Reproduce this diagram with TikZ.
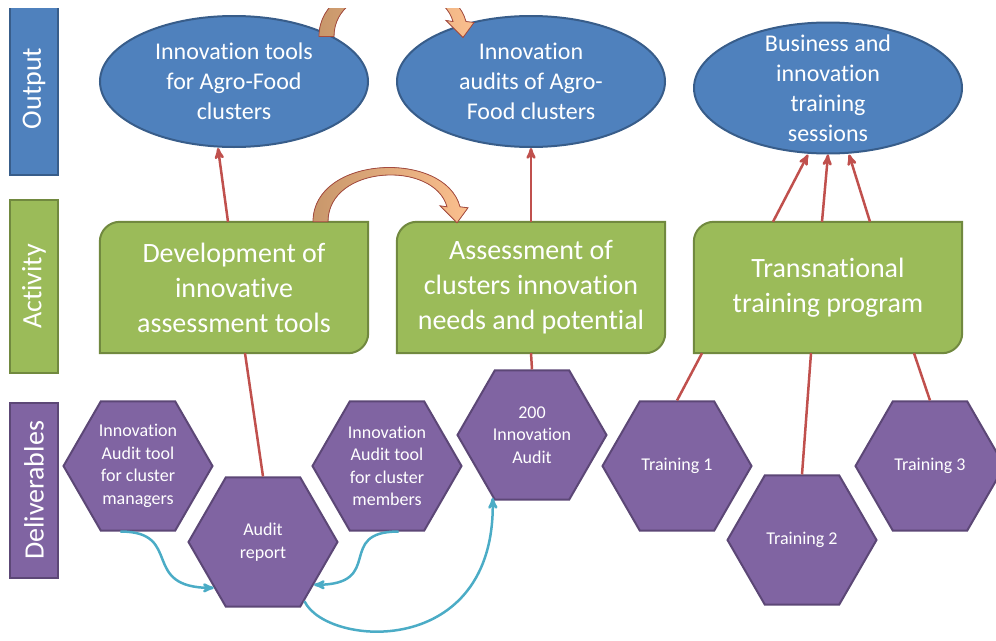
\documentclass[tikz,border=0pt]{standalone}
\usepackage{fontspec}
\setmainfont{Carlito}[Ligatures=NoCommon]
\usetikzlibrary{arrows, shapes.geometric, backgrounds}

\definecolor{outblue}{HTML}{4F81BD}
\definecolor{blueedge}{HTML}{385D8A}
\definecolor{actgreen}{HTML}{9BBB59}
\definecolor{greenedge}{HTML}{71893F}
\definecolor{delpurple}{HTML}{8064A2}
\definecolor{purpleedge}{HTML}{5C4776}
\definecolor{linkred}{HTML}{C0504D}
\definecolor{flowcyan}{HTML}{4BACC6}
\definecolor{bendleft}{HTML}{C8976B}
\definecolor{bendright}{HTML}{FBBF8E}
\definecolor{bendedge}{HTML}{A54B3F}

\tikzset{
  rowbar/.style={rotate=90, minimum height=48pt, line width=2pt, text=white,
    font=\fontsize{28}{34}\selectfont},
  outcome/.style={ellipse, draw=blueedge, fill=outblue, line width=2pt, text=white,
    minimum width=268pt, minimum height=131pt, inner sep=0pt, align=center,
    font=\fontsize{24}{30}\selectfont},
  activity/.style={minimum width=268pt, minimum height=131pt, text=white, align=center,
    font=\fontsize{28}{35}\selectfont},
  actbox/.style={draw=greenedge, fill=actgreen, line width=2pt},
  deliverable/.style={regular polygon, regular polygon sides=6, minimum size=149pt,
    draw=purpleedge, fill=delpurple, line width=2pt, inner sep=0pt, text=white,
    align=center, font=\fontsize{18}{22.5}\selectfont},
  redlink/.style={color=linkred, line width=2.5pt},
  cyanflow/.style={draw=flowcyan, line width=2.5pt, ->},
  bendfill/.style={draw=bendedge, line width=0.8pt, left color=bendleft, right color=bendright},
  pics/bendarrow/.style={code={
    \filldraw[bendfill] (79,0) .. controls (79,-67) and (211,-72) .. (226,-15)
      -- (234,-14) -- (223,1) -- (206,-16) -- (213,-15)
      .. controls (200,-62) and (94,-57) .. (94,0) -- cycle;
  }}
}

\begin{document}
\begin{tikzpicture}[x=1pt, y=-1pt, >=stealth', node distance=297pt]
\useasboundingbox (0,0) rectangle (996,640);
\begin{scope}
\clip (0,8) rectangle (996,640);

% define the row labels
  \node[rowbar, fill=outblue, draw=blueedge, minimum width=173pt] (outlabel) at (34,88.5) {Output};
  \node[rowbar, fill=actgreen, draw=greenedge, minimum width=173pt] (actlabel) at (34,286.5) {Activity};
  \node[rowbar, fill=delpurple, draw=purpleedge, minimum width=175pt] (dellabel) at (34,490.5) {Deliverables};

% define the activities
  \node[activity] (dev) at (234,287.5) {Development of\\innovative\\assessment tools};
  \node[activity] (assess) [right of=dev] {Assessment of\\clusters innovation\\needs and potential};
  \node[activity] (train) [right of=assess] {Transnational\\training program};

  \begin{pgfonlayer}{background}
  \foreach \act in {dev, assess, train}
    \filldraw[actbox] (\act.north east) -- ([xshift=20pt]\act.north west)
      .. controls ([xshift=9pt]\act.north west) and ([yshift=-9pt]\act.north west) .. ([yshift=-20pt]\act.north west)
      -- (\act.south west) -- ([xshift=-20pt]\act.south east)
      .. controls ([xshift=-9pt]\act.south east) and ([yshift=9pt]\act.south east) .. ([yshift=20pt]\act.south east)
      -- cycle;
  \end{pgfonlayer}

% define the outputs
  \node[outcome] (tools) [above of=dev, node distance=206pt] {Innovation tools\\for Agro-Food\\clusters};
  \node[outcome] (audits) [above of=assess, node distance=206pt] {Innovation\\audits of Agro-\\Food clusters};
  \node[outcome, inner ysep=-12pt] (sessions) [above of=train, node distance=199.5pt] {Business and\\innovation\\training\\sessions};

% define the deliverables
  \node[deliverable] (mgrtool) at (138,466) {Innovation\\Audit tool\\for cluster\\managers};
  \node[deliverable] (report) at (263,542) {Audit\\report};
  \node[deliverable] (memtool) at (387,466) {Innovation\\Audit tool\\for cluster\\members};
  \node[deliverable] (audit200) at (532,435) {200\\Innovation\\Audit};
  \node[deliverable] (train1) at (677,466) {Training 1};
  \node[deliverable] (train2) at (802,540) {Training 2};
  \node[deliverable] (train3) at (930,466) {Training 3};

% define the links
  \path[redlink, ->] ([xshift=-6pt]dev.north) edge ([xshift=-16pt]tools.south)
        (assess.north) edge (audits.south)
        ([xshift=-55pt]train.north) edge ([xshift=-20pt]sessions.south)
        ([xshift=-6pt]train.north) edge (sessions.south)
        ([xshift=42pt]train.north) edge ([xshift=21pt]sessions.south);
  \path[redlink] ([xshift=11pt]dev.south) edge (report.north)
        (assess.south) edge (audit200.north)
        ([xshift=-126pt]train.south) edge (train1.north)
        ([xshift=-17pt]train.south) edge (train2.north)
        ([xshift=86pt]train.south) edge (train3.north);

  \pic at (dev.north) {bendarrow};
  \pic at ([xshift=6pt, yshift=-21.5pt]tools.north) {bendarrow};

  \draw[cyanflow] (mgrtool.255) .. controls +(64,0) and +(-75,0) .. (report.223);
  \draw[cyanflow] (memtool.280) .. controls +(-64,0) and +(72,0) .. (report.320);
  \draw[cyanflow] (report.305) .. controls +(22,46) and +(3,162) .. (audit200.238);
\end{scope}
\end{tikzpicture}
\end{document}
